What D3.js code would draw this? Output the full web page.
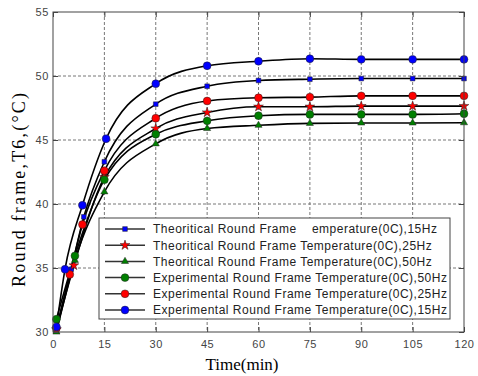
<!DOCTYPE html>
<html>
<head>
<meta charset="utf-8">
<script src="https://cdn.jsdelivr.net/npm/d3@7"></script>
<style>
  body { margin: 0; background: #fff; }
  svg { display: block; }
</style>
</head>
<body>
<svg id="chart" width="478" height="376"></svg>
<script>
// time (min) and temperature readings per series
var theo15Time = [1, 5.3, 9, 15, 30, 45, 60, 75, 90, 105, 120];
var theo15Temp = [30.2, 34.9, 39.0, 43.3, 47.8, 49.2, 49.65, 49.75, 49.8, 49.8, 49.8];

var theo25Time = [1, 6.1, 15, 30, 45, 60, 75, 90, 105, 120];
var theo25Temp = [30.2, 35.2, 42.1, 45.9, 47.15, 47.6, 47.6, 47.65, 47.65, 47.65];

var theo50Time = [1, 6.4, 15, 30, 45, 60, 75, 90, 105, 120];
var theo50Temp = [30.0, 35.6, 40.95, 44.7, 45.9, 46.15, 46.3, 46.33, 46.33, 46.35];

var exp50Time = [1, 6.4, 15, 30, 45, 60, 75, 90, 105, 120];
var exp50Temp = [31.0, 35.95, 41.9, 45.45, 46.5, 46.9, 47.0, 47.0, 47.0, 47.05];

var exp25Time = [1, 4.9, 8.6, 15, 30, 45, 60, 75, 90, 105, 120];
var exp25Temp = [30.3, 34.5, 38.4, 42.6, 46.7, 48.05, 48.3, 48.35, 48.45, 48.45, 48.45];

var exp15Time = [1, 3.5, 8.6, 15.5, 30, 45, 60, 75, 90, 105, 120];
var exp15Temp = [30.4, 34.9, 39.9, 45.1, 49.4, 50.8, 51.15, 51.35, 51.3, 51.3, 51.3];

var legendLabels = [
  "Theoritical Round Frame    emperature(0C),15Hz",
  "Theoritical Round Frame Temperature(0C),25Hz",
  "Theoritical Round Frame Temperature(0C),50Hz",
  "Experimental Round Frame Temperature(0C),50Hz",
  "Experimental Round Frame Temperature(0C),25Hz",
  "Experimental Round Frame Temperature(0C),15Hz"
];

var xTicks = [0, 15, 30, 45, 60, 75, 90, 105, 120];
var yTicks = [30, 35, 40, 45, 50, 55];

var series = [
  {t: theo15Time, v: theo15Temp, color: "#0000ff", sym: d3.symbolSquare, size: 22},
  {t: theo25Time, v: theo25Temp, color: "#ff0000", sym: d3.symbolStar, size: 30},
  {t: theo50Time, v: theo50Temp, color: "#007f00", sym: d3.symbolTriangle, size: 22},
  {t: exp50Time, v: exp50Temp, color: "#007f00", sym: d3.symbolCircle, size: 48},
  {t: exp25Time, v: exp25Temp, color: "#ff0000", sym: d3.symbolCircle, size: 48},
  {t: exp15Time, v: exp15Temp, color: "#0000ff", sym: d3.symbolCircle, size: 48}
];

var svg = d3.select("#chart");
var margin = {left: 53, right: 14, top: 12, bottom: 44};
var W = 478 - margin.left - margin.right;
var H = 376 - margin.top - margin.bottom;

var x = d3.scaleLinear().domain([0, 120]).range([0, W]);
var y = d3.scaleLinear().domain([30, 55]).range([H, 0]);

var g = svg.append("g")
  .attr("transform", "translate(" + margin.left + "," + margin.top + ")");

// grid
g.append("g").selectAll("line").data(xTicks.slice(1, -1)).enter().append("line")
  .attr("x1", d => x(d)).attr("x2", d => x(d))
  .attr("y1", 0).attr("y2", H)
  .attr("stroke", "#777").attr("stroke-dasharray", "3,2");
g.append("g").selectAll("line").data(yTicks.slice(1, -1)).enter().append("line")
  .attr("y1", d => y(d)).attr("y2", d => y(d))
  .attr("x1", 0).attr("x2", W)
  .attr("stroke", "#777").attr("stroke-dasharray", "3,2");

// curves
var line = d3.line()
  .x(d => x(d[0]))
  .y(d => y(d[1]))
  .curve(d3.curveMonotoneX);

series.forEach(function(s) {
  var pts = s.t.map((t, i) => [t, s.v[i]]);
  g.append("path")
    .datum(pts)
    .attr("d", line)
    .attr("fill", "none")
    .attr("stroke", "#000")
    .attr("stroke-width", 1.6);
});

series.forEach(function(s) {
  var pts = s.t.map((t, i) => [t, s.v[i]]);
  g.append("g").selectAll("path").data(pts).enter().append("path")
    .attr("d", d3.symbol().type(s.sym).size(s.size))
    .attr("transform", d => "translate(" + x(d[0]) + "," + y(d[1]) + ")")
    .attr("fill", s.color)
    .attr("stroke", "#222")
    .attr("stroke-width", 0.5);
});

// legend
var lg = g.append("g").attr("transform", "translate(" + (99 - margin.left) + "," + (218 - margin.top) + ")");
lg.append("rect")
  .attr("width", 351).attr("height", 101)
  .attr("fill", "#fff").attr("stroke", "#444");
legendLabels.forEach(function(lab, i) {
  var s = series[i];
  var row = lg.append("g").attr("transform", "translate(0," + (11 + i * 16.2) + ")");
  row.append("line")
    .attr("x1", 6).attr("x2", 46)
    .attr("stroke", "#333").attr("stroke-width", 1.5);
  row.append("path")
    .attr("d", d3.symbol().type(s.sym).size(s.size))
    .attr("transform", "translate(26,0)")
    .attr("fill", s.color)
    .attr("stroke", "#222")
    .attr("stroke-width", 0.5);
  row.append("text")
    .attr("x", 54).attr("dy", "0.36em")
    .style("white-space", "pre")
    .style("font-family", "Arial, 'Liberation Sans', sans-serif")
    .style("font-size", "12px")
    .style("letter-spacing", "0.5px")
    .attr("fill", "#222")
    .text(lab);
});

// axes box and ticks
g.append("rect").attr("width", W).attr("height", H)
  .attr("fill", "none").attr("stroke", "#444");

var xAxis = d3.axisBottom(x).tickValues(xTicks).tickSize(-5).tickPadding(8);
var gx = g.append("g").attr("transform", "translate(0," + H + ")").call(xAxis);
var yAxis = d3.axisLeft(y).tickValues(yTicks).tickSize(-5).tickPadding(4);
var gy = g.append("g").call(yAxis);
g.append("g").call(d3.axisTop(x).tickValues(xTicks).tickSize(-5).tickFormat(""));
g.append("g").attr("transform", "translate(" + W + ",0)")
  .call(d3.axisRight(y).tickValues(yTicks).tickSize(-5).tickFormat(""));
g.selectAll(".domain").remove();
g.selectAll(".tick line").attr("stroke", "#444");
[gx, gy].forEach(function(a) {
  a.selectAll("text")
    .style("font-family", "Arial, 'Liberation Sans', sans-serif")
    .style("font-size", "11px")
    .style("letter-spacing", "0.6px")
    .attr("fill", "#444");
});

// axis titles
svg.append("text")
  .attr("x", 242).attr("y", 370)
  .attr("text-anchor", "middle")
  .style("font-family", "'Times New Roman', 'Liberation Serif', serif")
  .style("font-size", "17px")
  .attr("fill", "#000")
  .text("Time(min)");

svg.append("text")
  .attr("transform", "translate(25,190) rotate(-90)")
  .attr("text-anchor", "middle")
  .style("font-family", "'Times New Roman', 'Liberation Serif', serif")
  .style("font-size", "18px")
  .attr("textLength", 194)
  .attr("lengthAdjust", "spacing")
  .attr("fill", "#000")
  .text("Round frame,T6,(\u00B0C)");
</script>
</body>
</html>
